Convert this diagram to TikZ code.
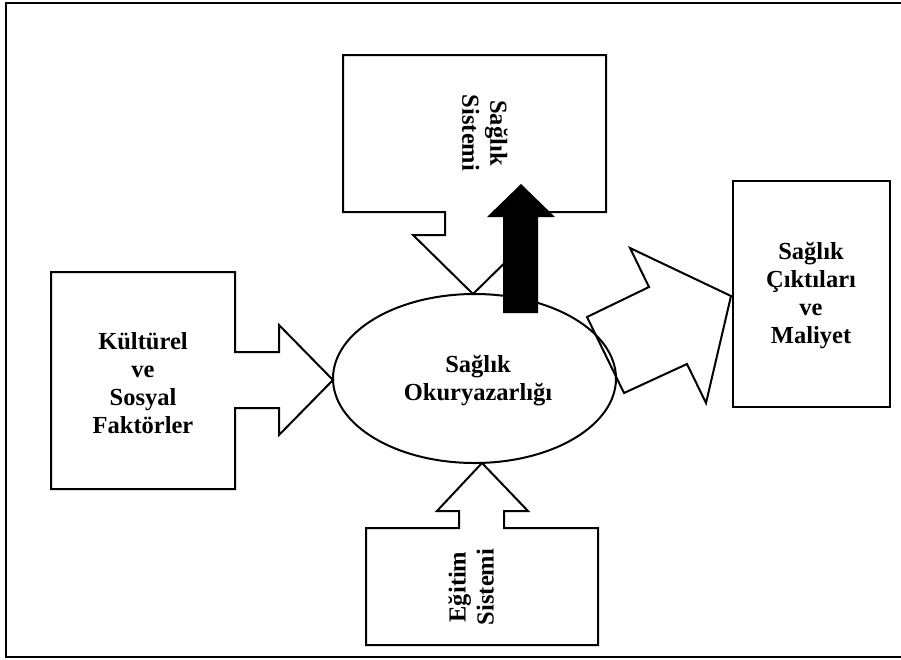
\documentclass[tikz,border=0pt]{standalone}
\usepackage{fontspec}
\setmainfont{Liberation Serif}
\usetikzlibrary{shapes.geometric}
\begin{document}
\begin{tikzpicture}[x=1pt,y=-1pt,
  shapeline/.style={draw=black,line width=2pt,line join=miter},
  lbl/.style={font=\fontsize{24.5}{28}\selectfont\bfseries,align=center,inner sep=0pt}]
\useasboundingbox (0,0) rectangle (901,659);
\begin{scope}
\clip (0,0) rectangle (901,659);
\draw[line width=2.5pt] (6,3) rectangle (910,657);
\end{scope}
% ellipse
\node[draw=black,line width=2pt,ellipse,minimum width=283pt,minimum height=169pt,inner sep=0pt] (oky) at (474.5,378.5) {};
\node[lbl] (okytext) at (478,381) {Sağlık\\Okuryazarlığı};
% top down-arrow callout
\draw[shapeline,fill=white] (343,55) -- (606,55) -- (606,212) -- (506,212) -- (506,235) -- (533,235) -- (473,294) -- (413,235) -- (445,235) -- (445,212) -- (343,212) -- cycle;
\node[lbl,rotate=-90] (saglik) at (485,133) {Sağlık\\Sistemi};
% left right-arrow callout
\draw[shapeline] (51,272) -- (235,272) -- (235,352) -- (279,352) -- (279,325) -- (333,380) -- (279,435) -- (279,408) -- (235,408) -- (235,489) -- (51,489) -- cycle;
\node[lbl] (kultur) at (143,383) {Kültürel\\ve\\Sosyal\\Faktörler};
% bottom up-arrow callout
\draw[shapeline] (366,528) -- (459,528) -- (459,511) -- (437,511) -- (482,463) -- (528,511) -- (504,511) -- (504,528) -- (598,528) -- (598,645) -- (366,645) -- cycle;
\node[lbl,rotate=90] (egitim) at (471,587) {Eğitim\\Sistemi};
% right box
\draw[shapeline] (733,181) rectangle (890,407);
\node[lbl] (cikti) at (811,296) {Sağlık\\Çıktıları\\ve\\Maliyet};
% tilted block arrow
\draw[shapeline] (587,317) -- (649,287) -- (630,248) -- (731,296) -- (706,403) -- (687,364) -- (624,393) -- cycle;
% black arrow
\fill[black] (503,313) -- (503,217) -- (487,217) -- (521,184) -- (555,217) -- (538,217) -- (538,313) -- cycle;
\end{tikzpicture}
\end{document}
